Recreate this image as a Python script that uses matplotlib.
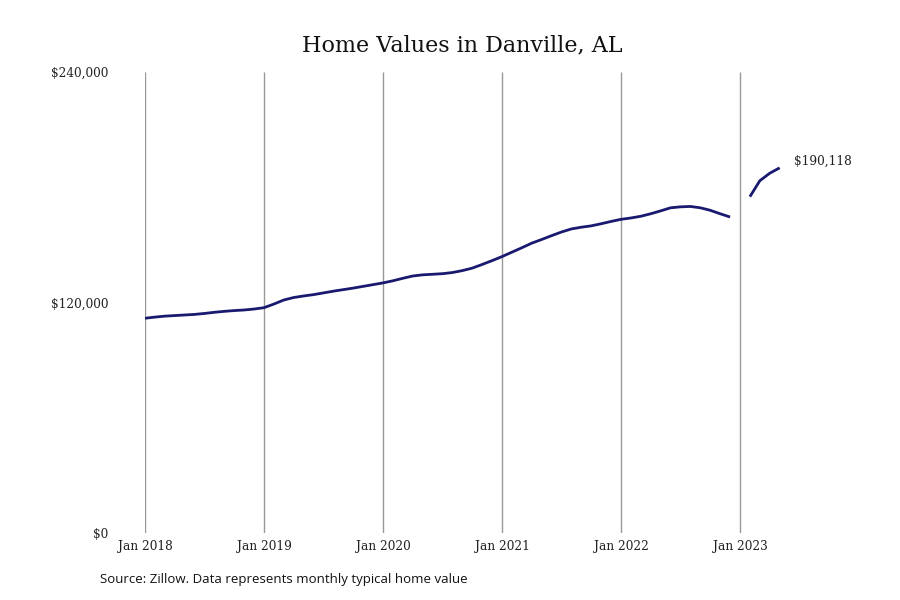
import numpy as np
import matplotlib
matplotlib.use("Agg")
import matplotlib.pyplot as plt

# Monthly typical home value, Jan 2018 .. May 2023 (Jan 2023 missing)
months = ["Jan 2018", "Feb 2018", "Mar 2018", "Apr 2018", "May 2018", "Jun 2018",
          "Jul 2018", "Aug 2018", "Sep 2018", "Oct 2018", "Nov 2018", "Dec 2018",
          "Jan 2019", "Feb 2019", "Mar 2019", "Apr 2019", "May 2019", "Jun 2019",
          "Jul 2019", "Aug 2019", "Sep 2019", "Oct 2019", "Nov 2019", "Dec 2019",
          "Jan 2020", "Feb 2020", "Mar 2020", "Apr 2020", "May 2020", "Jun 2020",
          "Jul 2020", "Aug 2020", "Sep 2020", "Oct 2020", "Nov 2020", "Dec 2020",
          "Jan 2021", "Feb 2021", "Mar 2021", "Apr 2021", "May 2021", "Jun 2021",
          "Jul 2021", "Aug 2021", "Sep 2021", "Oct 2021", "Nov 2021", "Dec 2021",
          "Jan 2022", "Feb 2022", "Mar 2022", "Apr 2022", "May 2022", "Jun 2022",
          "Jul 2022", "Aug 2022", "Sep 2022", "Oct 2022", "Nov 2022", "Dec 2022",
          "Jan 2023", "Feb 2023", "Mar 2023", "Apr 2023", "May 2023"]
values = [111800, 112400, 112900, 113200, 113500, 113800, 114300, 114900, 115400, 115800, 116100, 116600,
          117300, 119200, 121300, 122600, 123400, 124100, 125000, 125900, 126700, 127500, 128400, 129300,
          130200, 131300, 132600, 133800, 134400, 134700, 135000, 135600, 136600, 137900, 139800, 141800,
          143900, 146200, 148500, 150900, 152800, 154800, 156700, 158300, 159200, 159900, 161000, 162200,
          163300, 164000, 164900, 166200, 167700, 169300, 169800, 170000, 169300, 168000, 166200, 164500,
          np.nan, 175100, 183400, 187300, 190118]
xtick_labels = ["Jan 2018", "Jan 2019", "Jan 2020", "Jan 2021", "Jan 2022", "Jan 2023"]
ytick_values = [0, 120000, 240000]
ytick_labels = ["$0", "$120,000", "$240,000"]
title = "Home Values in Danville, AL"
source = "Source: Zillow. Data represents monthly typical home value"

fig = plt.figure(figsize=(9, 6), dpi=100)
ax = fig.add_axes([145/900, 67/600, 714/900, 461/600])

x = np.arange(len(values))
tick_pos = [months.index(l) for l in xtick_labels]

ax.vlines(tick_pos, 0, 240000, color="#999999", lw=1, zorder=1)
ax.plot(x, values, color="#191970", lw=2, zorder=3, solid_capstyle="butt")

ax.set_xlim(0, 72)
ax.set_ylim(0, 240000)
for s in ax.spines.values():
    s.set_visible(False)

ax.set_xticks(tick_pos)
ax.set_xticklabels(xtick_labels, fontfamily="DejaVu Serif", fontsize=8.7, color="#222222")
ax.set_yticks(ytick_values)
ax.set_yticklabels(ytick_labels, fontfamily="DejaVu Serif", fontsize=8.7, color="#222222")
ax.tick_params(axis="x", length=0, pad=5)
ax.tick_params(axis="y", length=0, pad=26.5)

last = len(values) - 1
ax.annotate(f"${values[last]:,.0f}", xy=(x[last], values[last]), xytext=(10, 4.5),
            textcoords="offset points", fontfamily="DejaVu Serif", fontsize=8.7,
            color="#222222", va="center", ha="left")

fig.text(462/900, 1 - 45/600, title, ha="center", va="center",
         fontfamily="DejaVu Serif", fontsize=16, color="#111111")
fig.text(100/900, 1 - 580/600, source, ha="left", va="center",
         fontfamily="Open Sans", fontsize=9.5, color="#111111")

fig.savefig("out.png", dpi=100)
